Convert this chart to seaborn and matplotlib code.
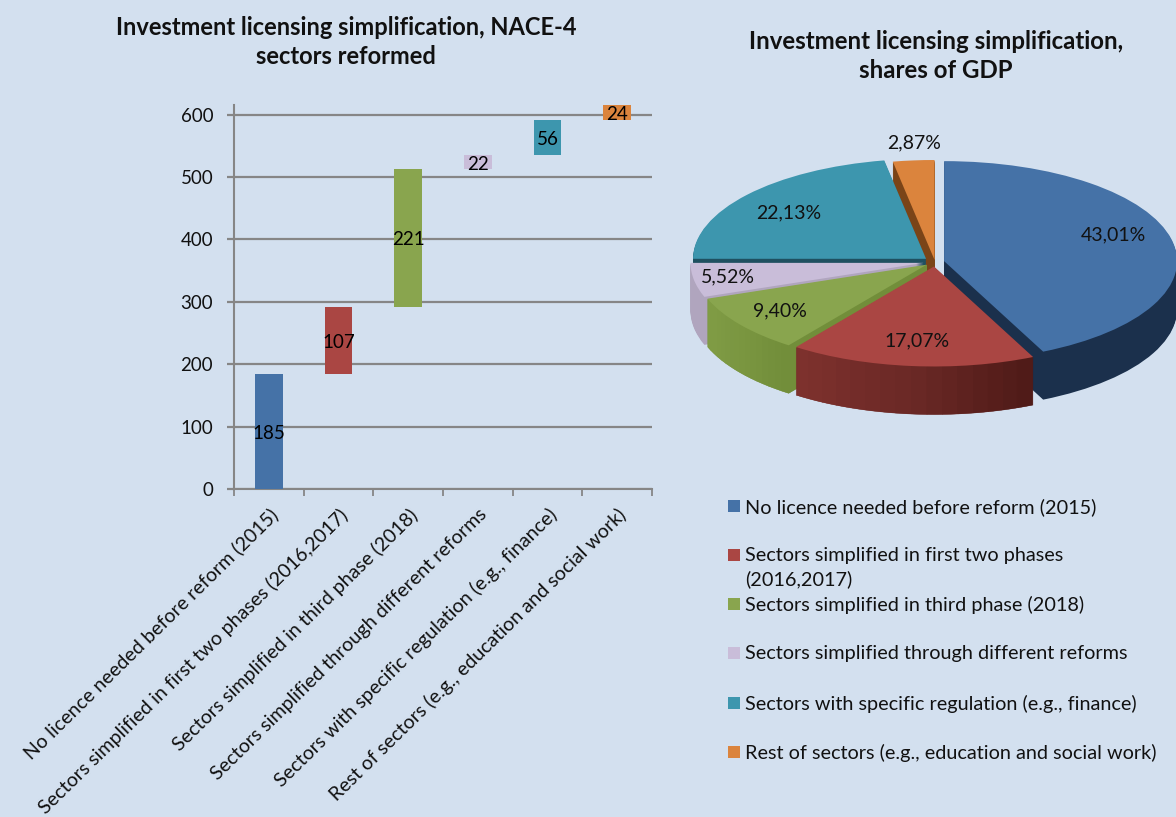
import matplotlib
matplotlib.use('Agg')
import matplotlib.pyplot as plt
from matplotlib.colors import LinearSegmentedColormap
from matplotlib.patches import Rectangle, Wedge
import numpy as np
import seaborn as sns
import pandas as pd

categories = ['No licence needed before reform (2015)',
              'Sectors simplified in first two phases (2016,2017)',
              'Sectors simplified in third phase (2018)',
              'Sectors simplified through different reforms',
              'Sectors with specific regulation (e.g., finance)',
              'Rest of sectors (e.g., education and social work)']
legend_labels = ['No licence needed before reform (2015)',
                 'Sectors simplified in first two phases\n(2016,2017)',
                 'Sectors simplified in third phase (2018)',
                 'Sectors simplified through different reforms',
                 'Sectors with specific regulation (e.g., finance)',
                 'Rest of sectors (e.g., education and social work)']
sectors = [185, 107, 221, 22, 56, 24]
gdp_shares = [43.01, 17.07, 9.40, 5.52, 22.13, 2.87]
gdp_labels = ['43,01%', '17,07%', '9,40%', '5,52%', '22,13%', '2,87%']

colors = ['#4572A7', '#AA4643', '#89A54E', '#C9BDD9', '#3D96AE', '#DB843D']
side_colors = ['#1B304C', '#682723', '#76913E', '#B0A5BE', '#1F5060', '#7A4418']
# left to right shading of the pie side, only where the reference shows it
side_gradient = {1: ['#7E312D', '#6A2825', '#4E1A17'], 2: ['#809C45', '#6C8836', '#4F6A24']}
# back to front order of the pie slices
pie_rank = [2, 5, 4, 3, 2, 1]
pie_explode = [0.04, 0.045, 0.045, 0.05, 0.05, 0.02]

W, H = 1176, 817
BG = '#D3E0EF'
GRAY = '#868686'
FONT = 'Lato'


def fx(px):
    return px / W


def fy(px):
    return 1 - px / H


sns.set_style('white')
plt.rcParams['font.family'] = [FONT, 'DejaVu Sans']

df = pd.DataFrame({'category': categories, 'sectors': sectors})
df['start'] = df['sectors'].cumsum().shift(1).fillna(0)

fig = plt.figure(figsize=(W / 100, H / 100), dpi=100, facecolor=BG)

# waterfall
ax = fig.add_axes([fx(234), fy(489), fx(652 - 234), (489 - 105) / H], facecolor=BG)
sns.barplot(data=df, x='category', y='sectors', bottom=df['start'].values, width=0.4,
            color=colors[0], saturation=1, ax=ax, zorder=3)
for bar, c in zip(ax.patches, colors):
    bar.set_facecolor(c)
    bar.set_edgecolor('none')
bar_texts = ax.bar_label(ax.containers[0], labels=[str(v) for v in sectors], label_type='center',
                         fontsize=13.5, color='black', zorder=5)
for t in bar_texts:
    t.xyann = (0, -1.5)
ax.set_xlim(-0.5, 5.5)
ax.set_ylim(0, 615.5)
ax.set_yticks(range(0, 601, 100))
ax.yaxis.grid(True, color=GRAY, lw=1.6, zorder=1)
ax.set_axisbelow(True)
ax.set_xlabel('')
ax.set_ylabel('')
ax.set_xticks(range(6))
ax.set_xticklabels(categories, rotation=44.5, ha='right', va='top', rotation_mode='anchor',
                   fontsize=14.1, color='#111111')
ax.set_xticks([i - 0.5 for i in range(7)], minor=True)
ax.tick_params(axis='x', which='major', length=0, pad=12)
ax.tick_params(axis='x', which='minor', length=5, width=1.3, color=GRAY, bottom=True)
ax.tick_params(axis='y', length=5, width=1.6, color=GRAY, left=True, labelsize=13.5,
               labelcolor='#111111', pad=10)
sns.despine(ax=ax)
for s in ['left', 'bottom']:
    ax.spines[s].set_color(GRAY)
    ax.spines[s].set_linewidth(1.5)

fig.text(fx(346), fy(42), 'Investment licensing simplification, NACE-4\nsectors reformed',
         ha='center', va='center', fontsize=17, fontweight='bold', color='#111111',
         linespacing=1.3)
fig.text(fx(936), fy(56), 'Investment licensing simplification,\nshares of GDP',
         ha='center', va='center', fontsize=17.3, fontweight='bold', color='#111111',
         linespacing=1.3)

# 3D-looking pie: extruded by stacking pies, squashed through the axes
ax2 = fig.add_axes([fx(935 - 233), fy(262 + 100), fx(466), 200 / H])
DEPTH = 48
STEPS = 16
for d in range(DEPTH, -1, -1):
    face = colors if d == 0 else side_colors
    wedges, _ = ax2.pie(gdp_shares, colors=face, startangle=90, counterclock=False,
                        explode=pie_explode, center=(0, -d / 100), radius=1,
                        wedgeprops={'linewidth': 0, 'clip_on': False})
    for i, (w, rank) in enumerate(zip(wedges, pie_rank)):
        w.set_zorder(rank * 10 + (1 if d == 0 else 0))
        if d > 0 and i in side_gradient:
            # shade the side left to right with thin wedges on the same angles
            cmap = LinearSegmentedColormap.from_list('side', side_gradient[i])
            angles = np.linspace(w.theta1, w.theta2, STEPS + 1)
            xs = [w.center[0] + np.cos(np.radians(t)) for t in angles] + [w.center[0]]
            for a, b in zip(angles[:-1], angles[1:]):
                mid = w.center[0] + np.cos(np.radians((a + b) / 2))
                c = cmap((mid - min(xs)) / (max(xs) - min(xs)))
                ax2.add_patch(Wedge(w.center, 1, a, b, facecolor=c, edgecolor=c, linewidth=0.3,
                                    clip_on=False, zorder=rank * 10 + 0.5))
ax2.set_aspect('auto')
ax2.set_xlim(-1, 1)
ax2.set_ylim(-1, 1)
ax2.axis('off')

label_pos = [(1113, 235), (917, 341), (780, 311), (728, 277), (789, 213), (914, 143)]
for txt, (px, py) in zip(gdp_labels, label_pos):
    fig.text(fx(px), fy(py), txt, ha='center', va='center', fontsize=14, color='#111111', zorder=20)

# legend
legend_y = [506, 555, 604, 653, 703, 752]
for lab, c, py in zip(legend_labels, colors, legend_y):
    fig.add_artist(Rectangle((fx(728), fy(py + 6)), 12 / W, 12 / H, transform=fig.transFigure,
                             facecolor=c, edgecolor='none'))
    fig.text(fx(745), fy(py - 8), lab, ha='left', va='top', fontsize=14.3, color='#111111',
             linespacing=1.4)

fig.savefig('out.png', dpi=100, facecolor=BG)
